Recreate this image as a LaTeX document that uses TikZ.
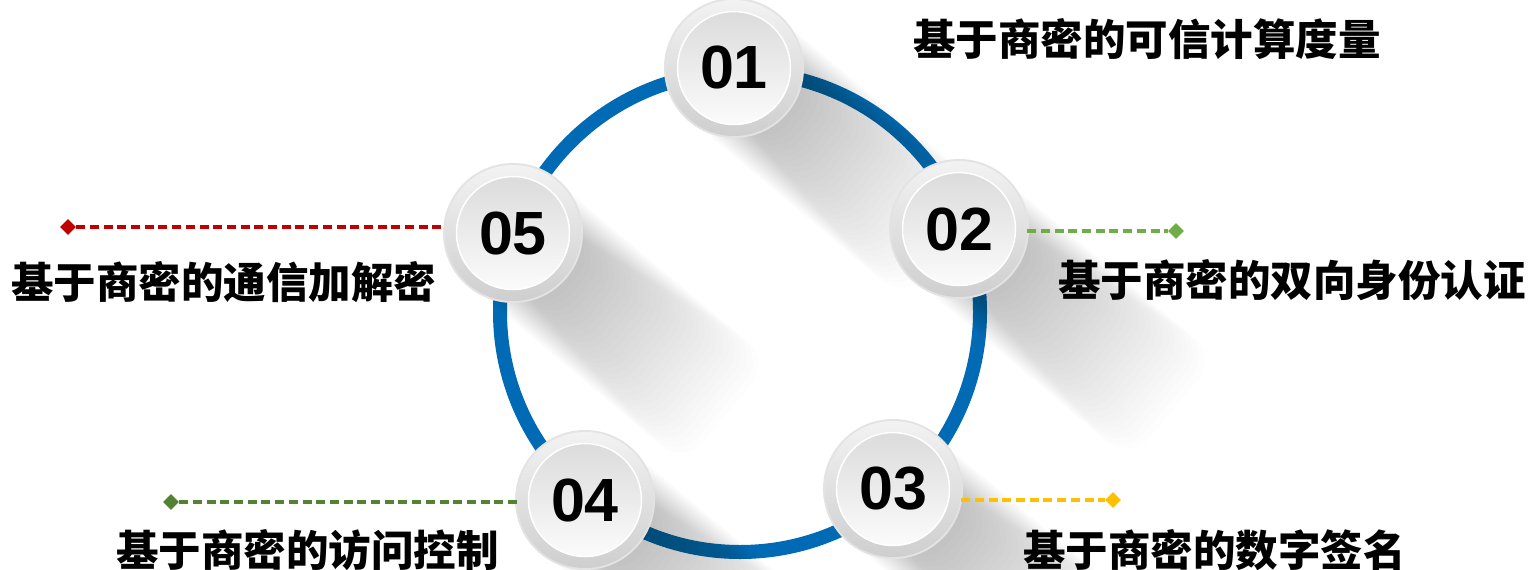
\documentclass[tikz,border=0pt]{standalone}
\usepackage{fontspec}
\setmainfont{Liberation Sans}
\newfontfamily\cjk{Noto Sans CJK SC}
\usetikzlibrary{shapes.geometric}
\definecolor{ringblue}{RGB}{0,106,180}
\definecolor{cred}{RGB}{192,0,0}
\definecolor{cgreen}{RGB}{112,173,71}
\definecolor{cyellow}{RGB}{255,192,0}
\definecolor{cdgreen}{RGB}{84,130,53}
\tikzset{
  x=1pt, y=-1pt,
  numtext/.style={circle, minimum size=136pt, inner sep=0pt, font=\fontsize{61}{61}\selectfont\bfseries},
  label5/.style={anchor=base west, inner sep=0pt, font=\cjk\bfseries\fontsize{42.5}{42.5}\selectfont},
  dashline/.style={line width=3.4pt, dash pattern=on 9pt off 4.7pt},
  tip/.style={diamond, fill=#1, minimum size=16pt, inner sep=0pt},
}
\begin{document}
\begin{tikzpicture}
\useasboundingbox (0,0) rectangle (1531,570);
% ring
\coordinate (rc) at (740,312);
\draw[ringblue, line width=14pt] (rc) circle [radius=240pt];
% shadows
\foreach \px/\py in {734/68,959/229,893/489,585/500,513/233}{
  \begin{scope}[shift={(\px,\py)}, rotate=-40]
    \foreach \k in {1,...,30}{
      \fill[black, opacity=0.009, rounded corners=30pt] (0,{-(38+1.0*\k)}) rectangle ({70+7*\k},{38+1.0*\k});
    }
  \end{scope}
}
% buttons
\foreach \px/\py in {734/68,959/229,893/489,585/500,513/233}{
  \begin{scope}[shift={(\px,\py)}]
    \fill[gray!22] (0,0) circle [radius=70pt];
    \shade[top color=gray!10, bottom color=gray!38] (0,0) circle [radius=68pt];
    \shade[top color=gray!28, bottom color=gray!3] (0,0) circle [radius=57pt];
    \draw[white, line width=1.5pt] (0,0) circle [radius=56.5pt];
  \end{scope}
}
\node[numtext] (n1) at (734,68) {01};
\node[numtext] (n2) at (959,229) {02};
\node[numtext] (n3) at (893,489) {03};
\node[numtext] (n4) at (585,500) {04};
\node[numtext] (n5) at (513,233) {05};
% connectors
\coordinate (s2) at (n2.east |- 0,231);
\node[tip=cgreen] (d2) at (1176,231) {};
\draw[dashline, cgreen] (s2) -- (d2);
\coordinate (s3) at (n3.east |- 0,500);
\node[tip=cyellow] (d3) at (1113,500) {};
\draw[dashline, cyellow] (s3) -- (d3);
\node[tip=cdgreen] (d4) at (171,502) {};
\coordinate (s4) at (n4.west |- 0,502);
\draw[dashline, cdgreen] (d4) -- (s4);
\node[tip=cred] (d5) at (68,227) {};
\coordinate (s5) at (n5.west |- 0,227);
\draw[dashline, cred] (d5) -- (s5);
% labels
\node[label5] (t1) at (913,55) {基于商密的可信计算度量};
\node[label5] (t2) at (1058,296) {基于商密的双向身份认证};
\node[label5] (t5) at (11,298) {基于商密的通信加解密};
\node[label5] (t4) at (116,566) {基于商密的访问控制};
\node[label5] (t3) at (1023,566) {基于商密的数字签名};
\end{tikzpicture}
\end{document}
